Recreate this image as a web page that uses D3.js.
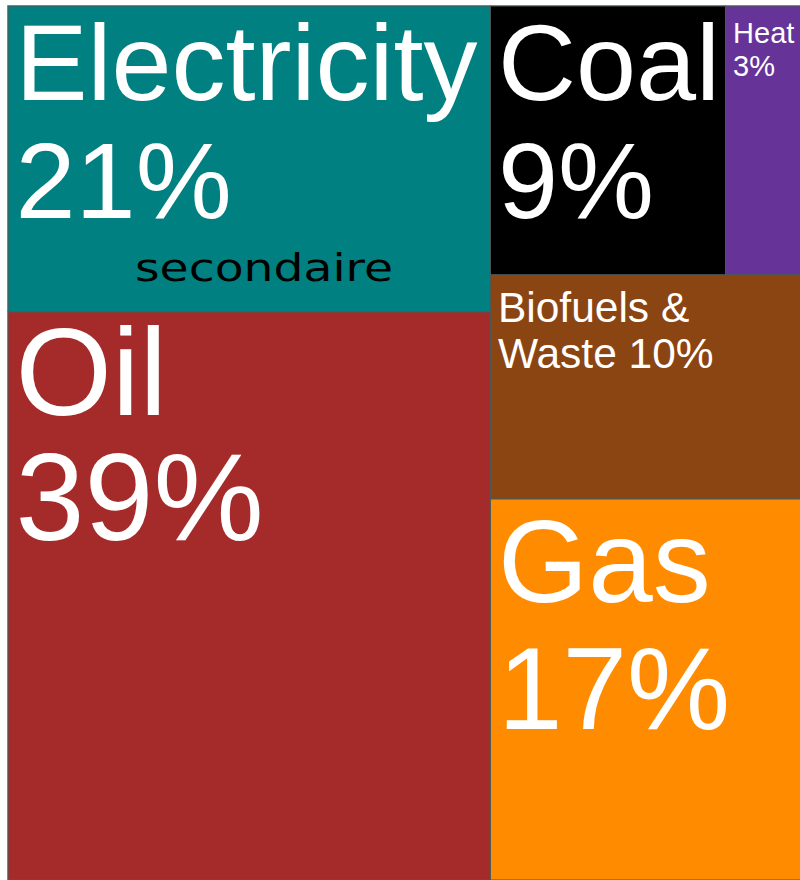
<!DOCTYPE html>
<html>
<head>
<meta charset="utf-8">
<script src="https://cdn.jsdelivr.net/npm/d3@7"></script>
<style>
  html, body { margin: 0; padding: 0; background: #fff; }
  svg { display: block; }
</style>
</head>
<body>
<div id="treemap-chart"></div>
<script>
// energy mix shares (%)
const categories = ["Electricity", "Oil", "Coal", "Heat", "Biofuels & Waste", "Gas"];
const shares = [21, 39, 9, 3, 10, 17];
const colors = ["#008080", "#a52a2a", "#000000", "#663399", "#8b4513", "#ff8c00"];
// how tiles are grouped: left column, right column (with Coal|Heat side by side)
const columns = [["Electricity", "Oil"], [["Coal", "Heat"], "Biofuels & Waste", "Gas"]];
const note = "secondaire";

// label styles per tile: font size, first baseline, line step
const labelStyle = {
  "Electricity": { size: 108, top: 94, step: 118 },
  "Oil": { size: 124, top: 103, step: 125 },
  "Coal": { size: 108, top: 94, step: 118 },
  "Heat": { size: 29, top: 37, step: 33 },
  "Biofuels & Waste": { size: 42.5, top: 47, step: 46 },
  "Gas": { size: 116, top: 103, step: 127 }
};

const width = 800, height = 880;
const origin = { x: 8, y: 6 };
const area = { w: 796, h: 874 };
const pad = 7.5;

const shareOf = name => shares[categories.indexOf(name)];
const colorOf = name => colors[categories.indexOf(name)];

function toNode(item) {
  if (Array.isArray(item)) return { children: item.map(toNode) };
  return { name: item, value: shareOf(item) };
}

const root = d3.hierarchy({ children: columns.map(toNode) })
  .sum(d => d.value || 0);

d3.treemap()
  .tile(d3.treemapSliceDice)
  .size([area.w, area.h])
  .round(false)(root);

const svg = d3.select("#treemap-chart")
  .append("svg")
  .attr("width", width)
  .attr("height", height);

const g = svg.append("g")
  .attr("transform", `translate(${origin.x}, ${origin.y})`);

// outer frame
g.append("rect")
  .attr("x", -0.5)
  .attr("y", -0.5)
  .attr("width", area.w + 1)
  .attr("height", area.h + 1)
  .attr("fill", "none")
  .attr("stroke", "#b0b0b0");

const leaves = g.selectAll("g.tile")
  .data(root.leaves())
  .enter()
  .append("g")
  .attr("class", "tile")
  .attr("transform", d => `translate(${d.x0}, ${d.y0})`);

leaves.append("rect")
  .attr("width", d => d.x1 - d.x0)
  .attr("height", d => d.y1 - d.y0)
  .attr("fill", d => colorOf(d.data.name))
  .attr("stroke", "#4d5a58")
  .attr("stroke-width", 1);

const labelLines = name => name === "Biofuels & Waste"
  ? ["Biofuels &", `Waste ${shareOf(name)}%`]
  : [name, `${shareOf(name)}%`];

leaves.each(function (d) {
  const st = labelStyle[d.data.name];
  const text = d3.select(this).append("text")
    .attr("fill", "#fff")
    .style("font-family", "'Liberation Sans', Arial, sans-serif")
    .style("font-size", st.size + "px");
  labelLines(d.data.name).forEach((line, i) => {
    text.append("tspan")
      .attr("x", pad)
      .attr("y", st.top + i * st.step)
      .text(line);
  });
});

// annotation inside the Electricity tile
const elec = root.leaves().find(d => d.data.name === "Electricity");
g.append("text")
  .attr("x", elec.x0 + 127)
  .attr("y", elec.y0 + 275)
  .attr("fill", "#000")
  .attr("textLength", 258)
  .attr("lengthAdjust", "spacingAndGlyphs")
  .style("font-family", "'DejaVu Sans', sans-serif")
  .style("font-size", "37px")
  .text(note);
</script>
</body>
</html>
